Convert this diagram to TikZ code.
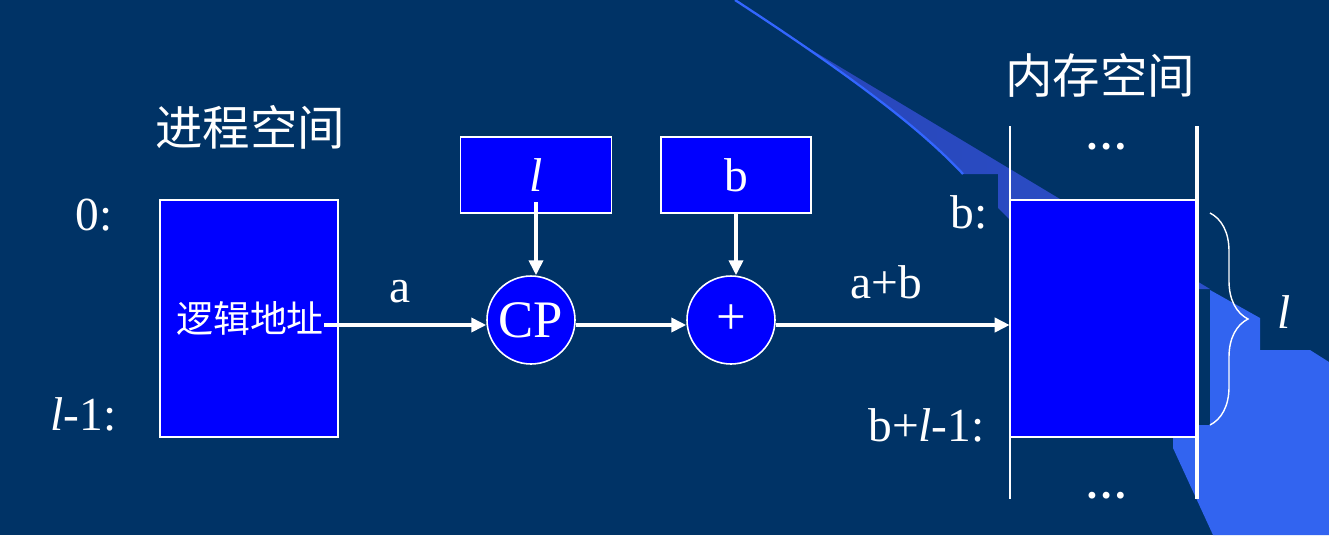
\documentclass[tikz,border=0pt]{standalone}
\usepackage{fontspec}
\setmainfont{Liberation Serif}
\newfontfamily\cjk{Noto Sans CJK SC}
\usetikzlibrary{arrows.meta,decorations.pathreplacing,calc}
\definecolor{slidebg}{RGB}{0,51,102}
\definecolor{boxblue}{RGB}{0,0,255}
\definecolor{bandmid}{RGB}{40,70,185}
\definecolor{bandlight}{RGB}{50,100,240}
\definecolor{bandedge}{RGB}{51,102,255}

\begin{document}
\begin{tikzpicture}[x=0.02cm, y=-0.02cm,
    font=\fontsize{27}{30}\selectfont,
    every node/.style={text=white, inner sep=0pt},
    regbox/.style={draw=white, line width=1.1pt, fill=boxblue},
    opcirc/.style={circle, draw=white, line width=0.9pt, fill=boxblue, minimum size=1.76cm},
    flow/.style={white, line width=2pt, -{Triangle[length=8.5pt, width=8pt]}},
    gap/.style={font=\fontsize{24}{26}\selectfont\bfseries}]

    % Slide background
    \fill[slidebg] (0,0) rectangle (1329,535);
    \useasboundingbox (0,0) rectangle (1329,535);

    % Template swoosh
    \shade[left color=bandmid, right color=bandmid!70!bandlight]
      (800,43) -- (1210,289) -- (1197,289) -- (1197,437) -- (1010,437) --
      (1010,220) -- (998,208) -- (998,174) -- (963,174)
      .. controls (920,128) and (860,82) .. cycle;
    \fill[bandlight] (1210,290) -- (1260,318) -- (1260,350) -- (1310,350) --
      (1329,362) -- (1329,535) -- (1213,535) -- (1173,448) -- (1173,437) --
      (1197,437) -- (1197,425) -- (1210,425) -- cycle;
    \draw[bandedge, line width=1.3pt]
      (735,0) .. controls (850,75) and (920,128) .. (963,174);

    % Process space
    \node[font=\cjk\fontsize{27}{30}\selectfont] (prochead) at (250,127) {进程空间};
    \node[regbox, minimum width=3.56cm, minimum height=4.74cm] (proc) at (249,318.5) {};
    \node[font=\cjk\fontsize{21}{24}\selectfont] (lgaddr) at (250,318) {逻辑地址};
    \node[anchor=base east] (addr0) at (113,230) {0:};
    \node[anchor=base east] (addrl) at (117,430) {\textit{l}-1:};

    % Registers and operators
    \node[regbox, minimum width=3.02cm, minimum height=1.52cm] (lreg) at (536,175) {\textit{l}};
    \node[regbox, minimum width=3.0cm, minimum height=1.52cm] (breg) at (736,175) {b};
    \node[opcirc, font=\fontsize{30}{32}\selectfont] (cp) at (531,320) {CP};
    \node[opcirc, font=\fontsize{30}{32}\selectfont] (add) at (731,320) {+};

    % Memory space
    \node[font=\cjk\fontsize{27}{30}\selectfont] (memhead) at (1100,75) {内存空间};
    \node[fill=boxblue, minimum width=3.74cm, minimum height=4.74cm] (mem) at (1103.5,318.5) {};
    \draw[white, line width=1.1pt] (mem.north west) -- (mem.north east);
    \draw[white, line width=1.1pt] (mem.south west) -- (mem.south east);
    \draw[white, line width=1pt] (1010,126) -- (1010,499);
    \draw[white, line width=2.4pt] (1197,126) -- (1197,499);
    \node[gap, anchor=base] (dotstop) at (1107,149) {…};
    \node[gap, anchor=base] (dotsbot) at (1107,498) {…};
    \node[anchor=base east] (addrb) at (988,228) {b:};
    \node[anchor=base east] (addrbl) at (985,441) {b+\textit{l}-1:};

    % Flow
    \draw[flow] (lgaddr.east |- 0,325) -- (cp.west |- 0,325);
    \draw[flow] (cp.east |- 0,325) -- (add.west |- 0,325);
    \draw[flow] (add.east |- 0,325) -- (mem.west |- 0,325);
    \draw[flow] ([yshift=0.24cm]lreg.south) -- (lreg.south |- cp.north);
    \draw[flow] (breg.south) -- (breg.south |- add.north);
    \node[anchor=base] (lbla) at (400,302) {a};
    \node[anchor=base] (lblab) at (886,298) {a+b};

    % Length brace
    \draw[white, line width=0.8pt, decorate, decoration={brace, amplitude=0.76cm}]
      (1210,213) -- (1210,425);
    \node (lbll) at (1284,312) {\textit{l}};
\end{tikzpicture}
\end{document}
